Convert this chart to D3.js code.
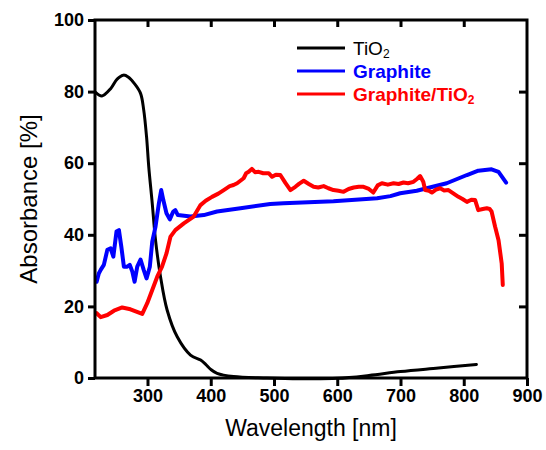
<!DOCTYPE html>
<html>
<head>
<meta charset="utf-8">
<script src="https://cdn.jsdelivr.net/npm/d3@7"></script>
<style>
  body { margin: 0; background: #fff; }
  svg { display: block; }
</style>
</head>
<body>
<div id="chart"></div>
<script>
// wavelength [nm], absorbance [%]
const tio2 = [
  [218, 79.8], [228, 78.8], [242, 80.9], [252, 83.5], [262, 84.6], [270, 84.0],
  [279, 82.3], [289, 79.5], [294, 74.9], [298.5, 67.4], [302, 59.0], [307.5, 48.8],
  [312.7, 38.5], [320.6, 28.3], [331, 19.0], [347, 11.5], [368, 6.4], [384, 5.0],
  [392, 3.8], [400, 2.4], [410, 1.3], [436, 0.4], [489, 0.0], [540, -0.2],
  [600, -0.1], [650, 0.7], [700, 1.8], [760, 2.8], [820, 3.8]
];

const graphite = [
  [219.6, 26.9], [223, 29.2], [226, 30.2], [231, 31.6], [236.5, 35.8], [241.7, 36.2],
  [246, 33.9], [251, 40.9], [254.8, 41.3], [258.6, 36.7], [262.7, 31.1], [268, 31.1],
  [272, 31.6], [276, 29.7], [279.6, 26.9], [283.8, 31.1], [289, 33.1], [294, 30.2],
  [298.5, 27.8], [303.7, 31.1], [307.5, 38.1], [312.7, 42.3], [318, 48.8], [321.7, 52.5],
  [325, 49.7], [330, 46.0], [335.3, 44.3], [340.7, 46.5], [344, 46.9], [348, 45.5],
  [368, 45.1], [389, 45.5], [410, 46.5], [447, 47.4], [494, 48.6], [515, 48.8],
  [594, 49.4], [663, 50.2], [684, 50.8], [699.5, 51.6], [725.7, 52.3], [773, 54.4],
  [805, 56.7], [823, 57.9], [844, 58.3], [855, 57.6], [867, 54.6]
];

const composite = [
  [219.6, 18.1], [226, 17.0], [236.5, 17.6], [247, 18.8], [260, 19.7], [273, 19.2],
  [291.7, 17.9], [299.6, 20.9], [307.5, 24.6], [315.4, 28.3], [323, 31.1], [330, 34.8],
  [336.4, 39.5], [344, 41.3], [357.4, 43.2], [373, 45.1], [383.8, 48.3], [392, 49.5],
  [402, 50.6], [412, 51.5], [420.6, 52.5], [430, 53.6], [436, 53.9], [441.7, 54.4],
  [452, 55.8], [456, 57.2], [460, 57.6], [465, 58.4], [470, 57.5], [475.8, 57.6],
  [483, 57.2], [491.6, 57.2], [497, 56.2], [503, 56.8], [510, 56.7], [518, 54.5],
  [526, 52.5], [533.8, 53.4], [540, 54.3], [547, 55.1], [555, 54.2], [562.7, 53.4],
  [570, 53.2], [578.5, 53.6], [586, 53.0], [594, 52.5], [602, 52.3], [610, 52.0],
  [618, 52.8], [626, 53.2], [634, 53.4], [641.6, 53.4], [650, 52.8], [657, 51.8],
  [664, 53.8], [670.6, 54.4], [680, 54.0], [689, 54.4], [697, 54.2], [704.7, 54.6],
  [712, 54.4], [720.5, 54.8], [726, 55.6], [731, 56.4], [736, 54.8], [739, 52.5],
  [745, 52.3], [749.6, 51.8], [756, 52.6], [762.7, 53.0], [769, 52.4], [775.8, 52.5],
  [784, 51.5], [791.6, 50.6], [798, 50.0], [805, 49.2], [812, 49.8], [818, 49.7],
  [823, 46.9], [830, 47.2], [836.4, 47.4], [841, 47.2], [844, 46.5], [849.5, 42.3],
  [855, 38.5], [860, 32.0], [861.7, 26.0]
];

const xTicks = [300, 400, 500, 600, 700, 800, 900];
const yTicks = [0, 20, 40, 60, 80, 100];

const series = [
  { name: "TiO", sub: "2", data: tio2, color: "#000000", width: 3, bold: false },
  { name: "Graphite", sub: "", data: graphite, color: "#0000ff", width: 4, bold: true },
  { name: "Graphite/TiO", sub: "2", data: composite, color: "#ff0000", width: 4, bold: true }
];

const width = 546, height = 450;
const font = "'Liberation Sans', Arial, Helvetica, sans-serif";

const x = d3.scaleLinear().domain([217, 900]).range([95, 527]);
const y = d3.scaleLinear().domain([0, 100]).range([378, 20]);

const svg = d3.select("#chart")
  .append("svg")
  .attr("width", width)
  .attr("height", height);

const line = d3.line()
  .x(d => x(d[0]))
  .y(d => y(d[1]));

// curves
svg.append("g")
  .selectAll("path")
  .data(series)
  .join("path")
  .attr("fill", "none")
  .attr("stroke", d => d.color)
  .attr("stroke-width", d => d.width)
  .attr("stroke-linejoin", "round")
  .attr("stroke-linecap", "round")
  .attr("d", d => line.curve(d.name === "TiO" ? d3.curveCatmullRom : d3.curveLinear)(d.data));

// axes
const gx = svg.append("g")
  .attr("transform", `translate(0,${y(0)})`)
  .call(d3.axisBottom(x).tickValues(xTicks).tickSize(8).tickSizeOuter(0).tickPadding(3));

const gy = svg.append("g")
  .attr("transform", `translate(${x.range()[0]},0)`)
  .call(d3.axisLeft(y).tickValues(yTicks).tickSize(7).tickSizeOuter(0).tickPadding(4));

const gt = svg.append("g")
  .attr("transform", `translate(0,${y(100)})`)
  .call(d3.axisTop(x).tickValues(xTicks.slice(0, -1)).tickSize(-7).tickSizeOuter(0).tickFormat(""));

const gr = svg.append("g")
  .attr("transform", `translate(${x.range()[1]},0)`)
  .call(d3.axisRight(y).tickValues(yTicks.slice(1, -1)).tickSize(-8).tickSizeOuter(0).tickFormat(""));

[gx, gy, gt, gr].forEach(g => {
  g.select(".domain").remove();
  g.selectAll(".tick line").attr("stroke", "#000").attr("stroke-width", 3);
  g.selectAll(".tick text")
    .attr("fill", "#000")
    .attr("font-family", font)
    .attr("font-weight", "bold")
    .attr("font-size", 18);
});

svg.append("rect")
  .attr("x", x.range()[0])
  .attr("y", y(100))
  .attr("width", x.range()[1] - x.range()[0])
  .attr("height", y(0) - y(100))
  .attr("fill", "none")
  .attr("stroke", "#000")
  .attr("stroke-width", 3);

// axis titles
svg.append("text")
  .attr("x", (x.range()[0] + x.range()[1]) / 2)
  .attr("y", 436)
  .attr("text-anchor", "middle")
  .attr("font-family", font)
  .attr("font-size", 23)
  .text("Wavelength [nm]");

svg.append("text")
  .attr("transform", `translate(37,${(y(0) + y(100)) / 2}) rotate(-90)`)
  .attr("text-anchor", "middle")
  .attr("font-family", font)
  .attr("font-size", 24)
  .text("Absorbance [%]");

// legend
const legend = svg.append("g")
  .selectAll("g")
  .data(series)
  .join("g")
  .attr("transform", (d, i) => `translate(297,${48 + i * 23})`);

legend.append("line")
  .attr("x1", 0).attr("x2", 48)
  .attr("stroke", d => d.color)
  .attr("stroke-width", 3);

const lt = legend.append("text")
  .attr("x", 56)
  .attr("y", 7)
  .attr("fill", d => d.color)
  .attr("font-family", font)
  .attr("font-size", 19)
  .attr("font-weight", d => d.bold ? "bold" : "normal");

lt.append("tspan").text(d => d.name);
lt.append("tspan")
  .attr("dy", 3)
  .attr("font-size", 12)
  .text(d => d.sub);
</script>
</body>
</html>
